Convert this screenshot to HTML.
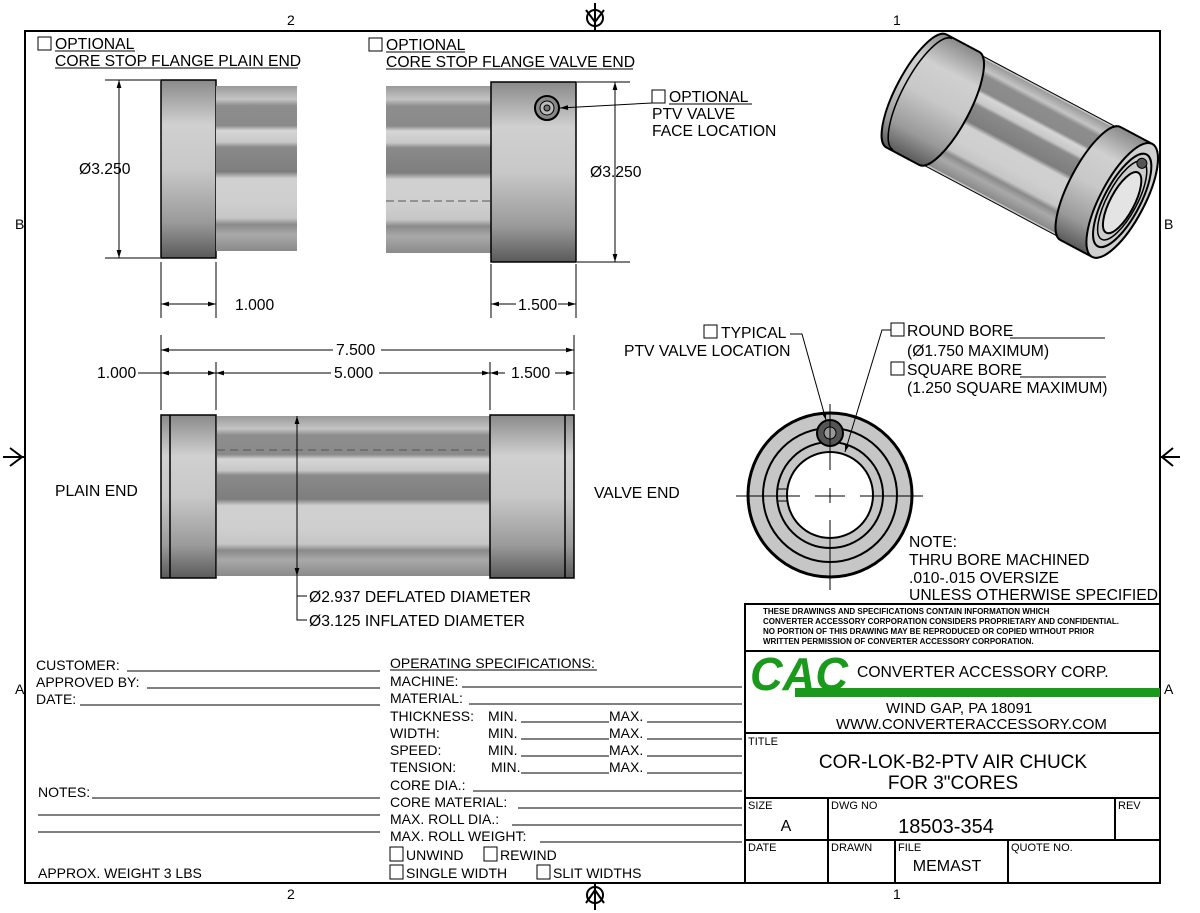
<!DOCTYPE html>
<html><head><meta charset="utf-8"><style>
html,body{margin:0;padding:0;background:#fff;}
svg{display:block;}
text{font-family:"Liberation Sans",sans-serif;fill:#000;}
</style></head><body>
<svg width="1200" height="913" viewBox="0 0 1200 913" xmlns="http://www.w3.org/2000/svg">
<defs>
<linearGradient id="fl" x1="0" y1="0" x2="0" y2="1">
<stop offset="0" stop-color="#8a8a8a"/><stop offset="0.25" stop-color="#d0d0d0"/><stop offset="0.5" stop-color="#c8c8c8"/><stop offset="0.8" stop-color="#9a9a9a"/><stop offset="1" stop-color="#5a5a5a"/>
</linearGradient>
<linearGradient id="bd" x1="0" y1="0" x2="0" y2="1">
<stop offset="0" stop-color="#9a9a9a"/><stop offset="0.08" stop-color="#c4c4c4"/><stop offset="0.12" stop-color="#8d8d8d"/><stop offset="0.24" stop-color="#8a8a8a"/><stop offset="0.27" stop-color="#d6d6d6"/><stop offset="0.34" stop-color="#c8c8c8"/><stop offset="0.37" stop-color="#8a8a8a"/><stop offset="0.52" stop-color="#7e7e7e"/><stop offset="0.56" stop-color="#d0d0d0"/><stop offset="0.7" stop-color="#cfcfcf"/><stop offset="0.8" stop-color="#c6c6c6"/><stop offset="0.84" stop-color="#8a8a8a"/><stop offset="0.9" stop-color="#a9a9a9"/><stop offset="1" stop-color="#8a8a8a"/>
</linearGradient>
<marker id="a" viewBox="0 0 10 10" refX="10" refY="5" markerWidth="10" markerHeight="8" orient="auto-start-reverse" markerUnits="userSpaceOnUse"><path d="M0,2 L10,5 L0,8 z" fill="#000"/></marker>
</defs>

<!-- frame -->
<rect x="25" y="31" width="1135" height="852" fill="none" stroke="#000" stroke-width="2"/>
<g font-size="14">
<text x="287" y="25">2</text><text x="893" y="25">1</text>
<text x="287" y="899">2</text><text x="893" y="899">1</text>
<text x="15" y="229">B</text><text x="15" y="694">A</text>
<text x="1164" y="229">B</text><text x="1164" y="694">A</text>
</g>
<g stroke="#000" stroke-width="2" fill="none">
<path d="M595,3 V30 M586,10 L595,22 L604,10"/><circle cx="595" cy="18" r="8"/>
<path d="M595,910 V884 M586,903 L595,890 L604,903"/><circle cx="595" cy="895" r="8"/>
<path d="M3,457 H24 M10,448 L22,457 L10,466"/>
<path d="M1180,457 H1161 M1173,448 L1162,457 L1173,466"/>
</g>

<!-- top views -->
<g font-size="15.7">
<rect x="38" y="37" width="13" height="13" fill="none" stroke="#000"/>
<text x="55" y="49">OPTIONAL</text><line x1="55" y1="51" x2="135" y2="51" stroke="#000"/>
<text x="55" y="66">CORE STOP FLANGE PLAIN END</text><line x1="55" y1="68" x2="298" y2="68" stroke="#000"/>
<rect x="369" y="38" width="13" height="13" fill="none" stroke="#000"/>
<text x="386" y="50">OPTIONAL</text><line x1="386" y1="52" x2="465" y2="52" stroke="#000"/>
<text x="386" y="67">CORE STOP FLANGE VALVE END</text><line x1="386" y1="69" x2="633" y2="69" stroke="#000"/>
</g>
<rect x="161" y="80" width="55" height="178" fill="url(#fl)" stroke="#000" stroke-width="1.5"/>
<rect x="216" y="86" width="81" height="165" fill="url(#bd)"/>
<rect x="386" y="86" width="105" height="167" fill="url(#bd)"/>
<line x1="386" y1="201" x2="491" y2="201" stroke="#555" stroke-dasharray="8,4"/>
<rect x="491" y="82" width="85" height="180" fill="url(#fl)" stroke="#000" stroke-width="1.5"/>
<circle cx="547" cy="108" r="12" fill="#888" stroke="#000" stroke-width="2"/><circle cx="547" cy="108" r="7" fill="#bbb" stroke="#000"/><circle cx="547" cy="108" r="3" fill="#777" stroke="#000"/>
<g stroke="#000" fill="none" stroke-width="1">
<path d="M105,80 H160 M105,258 H160"/>
<line x1="119" y1="80" x2="119" y2="258" marker-start="url(#a)" marker-end="url(#a)"/>
<path d="M577,82 H630 M577,262 H630"/>
<line x1="615" y1="82" x2="615" y2="262" marker-start="url(#a)" marker-end="url(#a)"/>
<path d="M161,262 V318 M216,262 V318 M491,264 V318 M576,264 V318"/>
<line x1="161" y1="304" x2="216" y2="304" marker-start="url(#a)" marker-end="url(#a)"/>
<line x1="491" y1="304" x2="576" y2="304" marker-start="url(#a)" marker-end="url(#a)"/>
<line x1="652" y1="103" x2="560" y2="108" marker-end="url(#a)"/>
</g>
<g font-size="15.7">
<text x="79" y="174">Ø3.250</text>
<text x="590" y="177">Ø3.250</text>
<text x="235" y="310">1.000</text>
<rect x="516" y="297" width="42" height="16" fill="#fff"/><text x="518" y="310">1.500</text>
<rect x="652" y="90" width="13" height="13" fill="none" stroke="#000"/>
<text x="669" y="102">OPTIONAL</text><line x1="669" y1="104" x2="752" y2="104" stroke="#000"/>
<text x="652" y="119">PTV VALVE</text>
<text x="652" y="136">FACE LOCATION</text>
</g>

<!-- main view -->
<g stroke="#000" fill="none" stroke-width="1">
<path d="M161,335 V410 M216,362 V410 M490,362 V410 M574,335 V410"/>
<line x1="161" y1="350" x2="574" y2="350" marker-start="url(#a)" marker-end="url(#a)"/>
<line x1="216" y1="373" x2="490" y2="373" marker-start="url(#a)" marker-end="url(#a)"/>
<line x1="138" y1="373" x2="161" y2="373"/>
<line x1="161" y1="373" x2="216" y2="373" marker-start="url(#a)" marker-end="url(#a)"/>
<line x1="490" y1="373" x2="574" y2="373" marker-start="url(#a)" marker-end="url(#a)"/>
</g>
<g font-size="15.7">
<rect x="333" y="342" width="48" height="16" fill="#fff"/><text x="336" y="355">7.500</text>
<rect x="331" y="365" width="48" height="16" fill="#fff"/><text x="334" y="378">5.000</text>
<rect x="505" y="365" width="50" height="16" fill="#fff"/><text x="511" y="378">1.500</text>
<text x="97" y="378">1.000</text>
</g>
<rect x="161" y="415" width="55" height="163" fill="url(#fl)" stroke="#000" stroke-width="1.5"/>
<line x1="170" y1="415" x2="170" y2="578" stroke="#000" stroke-width="1.5"/>
<rect x="217" y="416" width="273" height="160" fill="url(#bd)"/>
<line x1="217" y1="450" x2="490" y2="450" stroke="#555" stroke-dasharray="8,5"/>
<rect x="490" y="415" width="84" height="163" fill="url(#fl)" stroke="#000" stroke-width="1.5"/>
<line x1="565" y1="415" x2="565" y2="578" stroke="#000" stroke-width="1.5"/>
<g stroke="#000" fill="none" stroke-width="1">
<line x1="297" y1="416" x2="297" y2="576" marker-start="url(#a)" marker-end="url(#a)"/>
<path d="M297,576 V620 H307 M297,576 V596 H307"/>
</g>
<g font-size="15.7">
<text x="55" y="496">PLAIN END</text>
<text x="594" y="498">VALVE END</text>
<text x="309" y="602">Ø2.937 DEFLATED DIAMETER</text>
<text x="309" y="626">Ø3.125 INFLATED DIAMETER</text>
</g>

<!-- isometric -->
<g transform="translate(1018,145) rotate(28)">
<path d="M-115,-62 A20,62 0 0 0 -115,62 L115,62 A20,62 0 0 0 115,-62 Z" fill="#c4c4c4" stroke="#000" stroke-width="1"/>
<path d="M-80,-60 A20,60 0 0 0 -80,60 L82,60 A20,60 0 0 0 82,-60 Z" fill="url(#bd)"/>
<path d="M-115,-64 A20,64 0 0 0 -115,64 L-78,64 A20,64 0 0 0 -78,-64 Z" fill="url(#fl)" stroke="#000" stroke-width="2"/>
<path d="M-108,-63 A20,63 0 0 0 -108,63" fill="none" stroke="#000" stroke-width="1.5"/>
<path d="M82,-64 A20,64 0 0 0 82,64 L118,64 A22,64 0 0 0 118,-64 Z" fill="url(#fl)" stroke="#000" stroke-width="2"/>
<ellipse cx="118" cy="0" rx="22" ry="64" fill="#d0d0d0" stroke="#000" stroke-width="2"/>
<ellipse cx="118" cy="0" rx="18" ry="52" fill="#ccc" stroke="#000" stroke-width="2"/>
<ellipse cx="118" cy="0" rx="15" ry="44" fill="#ccc" stroke="#000" stroke-width="1.5"/>
<ellipse cx="119" cy="2" rx="12" ry="34" fill="#e4e4e4" stroke="#000" stroke-width="2"/>
<circle cx="118" cy="-42" r="5" fill="#555" stroke="#000"/>
</g>

<!-- end view -->
<circle cx="830" cy="495" r="82" fill="#c6c6c6" stroke="#000" stroke-width="3"/>
<circle cx="830" cy="495" r="67" fill="none" stroke="#000" stroke-width="2"/>
<circle cx="830" cy="495" r="53" fill="none" stroke="#000" stroke-width="2"/>
<circle cx="830" cy="495" r="43" fill="#fff" stroke="#000" stroke-width="2"/>
<circle cx="830" cy="433" r="13" fill="#555" stroke="#000" stroke-width="2"/>
<circle cx="830" cy="433" r="6" fill="#999" stroke="#000"/>
<rect x="777" y="489" width="10" height="12" fill="none" stroke="#000"/>
<g stroke="#000" fill="none" stroke-width="1">
<path d="M736,496 H800 M815,496 H845 M860,496 H923"/>
<path d="M830,404 V470 M830,488 V503 M830,520 V590"/>
<path d="M790,334 H802 L826,420" marker-end="url(#a)"/>
<path d="M891,330 H882 L845,452" marker-end="url(#a)"/>
</g>
<g font-size="15.7">
<rect x="704" y="325" width="13" height="13" fill="none" stroke="#000"/>
<text x="721" y="338">TYPICAL</text>
<text x="624" y="356">PTV VALVE LOCATION</text>
<rect x="891" y="323" width="13" height="13" fill="none" stroke="#000"/>
<text x="907" y="336">ROUND BORE</text><line x1="1010" y1="338" x2="1105" y2="338" stroke="#000"/>
<text x="907" y="356">(Ø1.750 MAXIMUM)</text>
<rect x="891" y="362" width="13" height="13" fill="none" stroke="#000"/>
<text x="907" y="375">SQUARE BORE</text><line x1="1020" y1="377" x2="1106" y2="377" stroke="#000"/>
<text x="907" y="393">(1.250 SQUARE MAXIMUM)</text>
<text x="909" y="547">NOTE:</text>
<text x="909" y="565">THRU BORE MACHINED</text>
<text x="909" y="583">.010-.015 OVERSIZE</text>
<text x="909" y="600">UNLESS OTHERWISE SPECIFIED.</text>
</g>

<!-- title block -->
<g stroke="#000" stroke-width="2" fill="none">
<rect x="745" y="604" width="415" height="279"/>
<path d="M745,651 H1160 M745,733 H1160 M745,798 H1160 M745,840 H1160"/>
<path d="M828,798 V883 M1115,798 V840 M895,840 V883 M1008,840 V883"/>
</g>
<g font-size="8" font-weight="bold">
<text x="763" y="614">THESE DRAWINGS AND SPECIFICATIONS CONTAIN INFORMATION WHICH</text>
<text x="763" y="624">CONVERTER ACCESSORY CORPORATION CONSIDERS PROPRIETARY AND CONFIDENTIAL.</text>
<text x="763" y="634">NO PORTION OF THIS DRAWING MAY BE REPRODUCED OR COPIED WITHOUT PRIOR</text>
<text x="763" y="644">WRITTEN PERMISSION OF CONVERTER ACCESSORY CORPORATION.</text>
</g>
<rect x="795" y="688" width="365" height="9" fill="#1a9a1a"/>
<text x="750" y="690" font-size="46" font-weight="bold" font-style="italic" style="fill:#1a9a1a" textLength="98" lengthAdjust="spacingAndGlyphs">CAC</text>
<text x="857" y="677" font-size="15.7">CONVERTER ACCESSORY CORP.</text>
<text x="886" y="713" font-size="15">WIND GAP, PA 18091</text>
<text x="836" y="729" font-size="15">WWW.CONVERTERACCESSORY.COM</text>
<g font-size="11"><text x="748" y="745">TITLE</text><text x="748" y="809">SIZE</text><text x="831" y="809">DWG NO</text><text x="1118" y="809">REV</text>
<text x="748" y="851">DATE</text><text x="831" y="851">DRAWN</text><text x="898" y="851">FILE</text><text x="1011" y="851">QUOTE NO.</text></g>
<g font-size="19" text-anchor="middle">
<text x="953" y="768">COR-LOK-B2-PTV AIR CHUCK</text>
<text x="953" y="789">FOR 3"CORES</text>
<text x="786" y="831" font-size="16">A</text>
<text x="946" y="833" font-size="20">18503-354</text>
<text x="947" y="871" font-size="16">MEMAST</text>
</g>

<!-- bottom left block -->
<g font-size="14">
<text x="36" y="670">CUSTOMER:</text><line x1="127" y1="671" x2="380" y2="671" stroke="#000"/>
<text x="36" y="687">APPROVED BY:</text><line x1="147" y1="688" x2="380" y2="688" stroke="#000"/>
<text x="36" y="704">DATE:</text><line x1="80" y1="705" x2="380" y2="705" stroke="#000"/>
<text x="38" y="797">NOTES:</text><line x1="92" y1="798" x2="380" y2="798" stroke="#000"/>
<line x1="38" y1="815" x2="380" y2="815" stroke="#000"/>
<line x1="38" y1="832" x2="380" y2="832" stroke="#000"/>
<text x="38" y="878">APPROX. WEIGHT 3 LBS</text>
<text x="390" y="668">OPERATING SPECIFICATIONS:</text><line x1="390" y1="670" x2="597" y2="670" stroke="#000"/>
<text x="390" y="686">MACHINE:</text><line x1="462" y1="687" x2="742" y2="687" stroke="#000"/>
<text x="390" y="703">MATERIAL:</text><line x1="469" y1="704" x2="742" y2="704" stroke="#000"/>
<text x="390" y="721">THICKNESS:</text><text x="488" y="721">MIN.</text><text x="609" y="721">MAX.</text>
<text x="390" y="738">WIDTH:</text><text x="488" y="738">MIN.</text><text x="609" y="738">MAX.</text>
<text x="390" y="755">SPEED:</text><text x="488" y="755">MIN.</text><text x="609" y="755">MAX.</text>
<text x="390" y="772">TENSION:</text><text x="491" y="772">MIN.</text><text x="609" y="772">MAX.</text>
<path d="M521,722 H609 M647,722 H742 M521,739 H609 M647,739 H742 M521,756 H609 M647,756 H742 M521,773 H609 M647,773 H742" stroke="#000"/>
<text x="390" y="790">CORE DIA.:</text><line x1="473" y1="791" x2="742" y2="791" stroke="#000"/>
<text x="390" y="807">CORE MATERIAL:</text><line x1="518" y1="808" x2="742" y2="808" stroke="#000"/>
<text x="390" y="824">MAX. ROLL DIA.:</text><line x1="512" y1="825" x2="742" y2="825" stroke="#000"/>
<text x="390" y="841">MAX. ROLL WEIGHT:</text><line x1="540" y1="842" x2="742" y2="842" stroke="#000"/>
<rect x="390" y="847" width="13" height="14" fill="none" stroke="#000"/><text x="406" y="860">UNWIND</text>
<rect x="484" y="847" width="13" height="14" fill="none" stroke="#000"/><text x="500" y="860">REWIND</text>
<rect x="390" y="865" width="13" height="14" fill="none" stroke="#000"/><text x="406" y="878">SINGLE WIDTH</text>
<rect x="537" y="865" width="13" height="14" fill="none" stroke="#000"/><text x="553" y="878">SLIT WIDTHS</text>
</g>
</svg>
</body></html>
